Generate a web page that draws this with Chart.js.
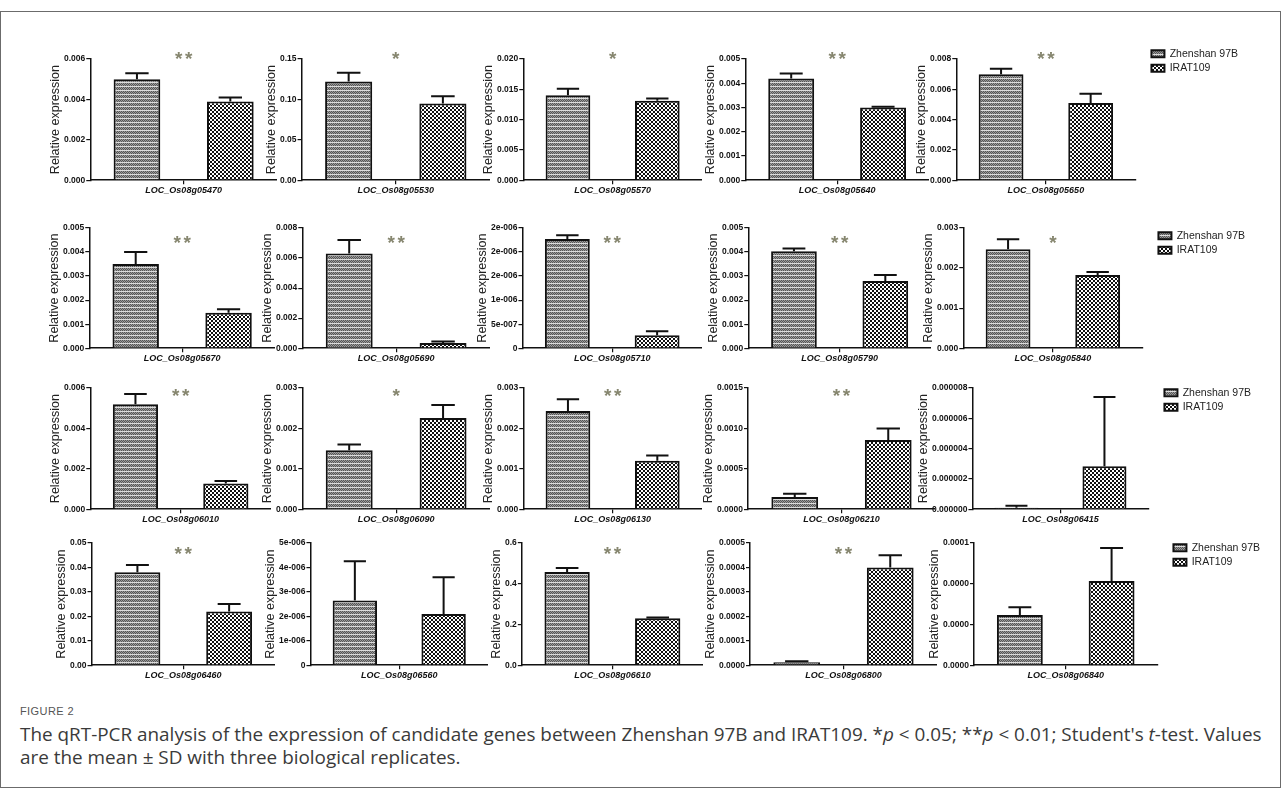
<!DOCTYPE html>
<html>
<head>
<meta charset="utf-8">
<script src="https://cdn.jsdelivr.net/npm/chart.js@4.4.0/dist/chart.umd.min.js"></script>
<style>
  html, body { margin: 0; padding: 0; background: #fff; }
  body { width: 1282px; height: 794px; position: relative; overflow: hidden; font-family: Arial, 'Liberation Sans', sans-serif; }
  #frame { position: absolute; left: 0; top: 11px; width: 1281px; height: 777px; border: 1px solid #6b6b6b; box-sizing: border-box; }
  canvas { position: absolute; }
  #fig { position: absolute; left: 20px; top: 705px; font-size: 11px; color: #555; letter-spacing: 0.4px; }
  #cap { position: absolute; left: 20px; top: 723px; font-family: 'Open Sans', Arial, sans-serif; font-size: 18.9px; line-height: 23px; color: #3a3a3a; white-space: nowrap; }
</style>
</head>
<body>
<div id="frame"></div>
<div id="fig">FIGURE 2</div>
<div id="cap">The qRT-PCR analysis of the expression of candidate genes between Zhenshan 97B and IRAT109. *<i>p</i> &lt; 0.05; **<i>p</i> &lt; 0.01; Student's <i>t</i>-test. Values<br>are the mean ± SD with three biological replicates.</div>
<script>
/* qRT-PCR panels: two lines (Zhenshan 97B / IRAT109) per gene, mean + SD */

const genes = [
  'LOC_Os08g05470', 'LOC_Os08g05530', 'LOC_Os08g05570', 'LOC_Os08g05640', 'LOC_Os08g05650',
  'LOC_Os08g05670', 'LOC_Os08g05690', 'LOC_Os08g05710', 'LOC_Os08g05790', 'LOC_Os08g05840',
  'LOC_Os08g06010', 'LOC_Os08g06090', 'LOC_Os08g06130', 'LOC_Os08g06210', 'LOC_Os08g06415',
  'LOC_Os08g06460', 'LOC_Os08g06560', 'LOC_Os08g06610', 'LOC_Os08g06800', 'LOC_Os08g06840',
];
const seriesNames = ['Zhenshan 97B', 'IRAT109'];

const zhenshanMean = [
  0.0050, 0.122, 0.0140, 0.0042, 0.0070,
  0.0035, 0.0063, 2.27e-6, 0.00403, 0.00247,
  0.0052, 0.00146, 0.00243, 0.00015, 1.0e-7,
  0.038, 2.65e-6, 0.458, 0.000012, 0.000041,
];
const zhenshanSD = [
  0.0003, 0.011, 0.0011, 0.0002, 0.00035,
  0.0005, 0.0009, 0.08e-6, 0.00012, 0.00025,
  0.0005, 0.00014, 0.00029, 0.00004, 1.2e-7,
  0.003, 1.6e-6, 0.019, 0.000004, 0.0000065,
];
const iratMean = [
  0.0039, 0.095, 0.0131, 0.0030, 0.0051,
  0.00147, 0.00035, 0.27e-6, 0.0028, 0.00183,
  0.00127, 0.00226, 0.0012, 0.000855, 2.84e-6,
  0.022, 2.1e-6, 0.230, 0.0004, 0.0000689,
];
const iratSD = [
  0.0002, 0.009, 0.0004, 0.00003, 0.0006,
  0.00015, 0.0001, 0.08e-6, 0.00024, 0.00007,
  0.00013, 0.00032, 0.00013, 0.000145, 4.56e-6,
  0.003, 1.5e-6, 0.004, 0.00005, 0.000027,
];
const stars = [
  '**', '*', '*', '**', '**',
  '**', '**', '**', '**', '*',
  '**', '*', '**', '**', '',
  '**', '', '**', '**', '',
];
const yMax = [
  0.006, 0.15, 0.020, 0.005, 0.008,
  0.005, 0.008, 2.5e-6, 0.005, 0.003,
  0.006, 0.003, 0.003, 0.0015, 0.000008,
  0.05, 5e-6, 0.6, 0.0005, 0.0001,
];
const yTickLabels = [
  ['0.000', '0.002', '0.004', '0.006'],
  ['0.00', '0.05', '0.10', '0.15'],
  ['0.000', '0.005', '0.010', '0.015', '0.020'],
  ['0.000', '0.001', '0.002', '0.003', '0.004', '0.005'],
  ['0.000', '0.002', '0.004', '0.006', '0.008'],
  ['0.000', '0.001', '0.002', '0.003', '0.004', '0.005'],
  ['0.000', '0.002', '0.004', '0.006', '0.008'],
  ['0', '5e-007', '1e-006', '2e-006', '2e-006', '2e-006'],
  ['0.000', '0.001', '0.002', '0.003', '0.004', '0.005'],
  ['0.000', '0.001', '0.002', '0.003'],
  ['0.000', '0.002', '0.004', '0.006'],
  ['0.000', '0.001', '0.002', '0.003'],
  ['0.000', '0.001', '0.002', '0.003'],
  ['0.0000', '0.0005', '0.0010', '0.0015'],
  ['0.000000', '0.000002', '0.000004', '0.000006', '0.000008'],
  ['0.00', '0.01', '0.02', '0.03', '0.04', '0.05'],
  ['0', '1e-006', '2e-006', '3e-006', '4e-006', '5e-006'],
  ['0.0', '0.2', '0.4', '0.6'],
  ['0.0000', '0.0001', '0.0002', '0.0003', '0.0004', '0.0005'],
  ['0.0000', '0.0000', '0.0000', '0.0001'],
];

// page layout: plot area edges (px) for each row / panel
const rowTop = [59, 228, 388, 543];
const rowBase = [180, 348, 509, 665];
const plotLeft = [
  [90, 302, 523, 745, 956],
  [89, 302, 522, 748, 963],
  [90, 302, 523, 748, 972],
  [92, 310, 522, 750, 974],
];
const plotRight = [
  [277, 490, 702, 929, 1135],
  [275, 490, 702, 931, 1142],
  [271, 490, 702, 935, 1148],
  [275, 488, 703, 937, 1157],
];
const starY = [54, 238, 391, 549];
const legendShift = [-14.5, -1.5, -4.5, -4.5];
const legendGap = 12;

const ink = '#111';
const tickFont = { family: 'Arial, sans-serif', size: 8.5, weight: 'bold' };

function makePattern(kind) {
  const c = document.createElement('canvas');
  c.width = 4;
  c.height = 4;
  const g = c.getContext('2d');
  if (kind === 'stripes') {
    for (let y = 0; y < 4; y += 1) {
      for (let x = 0; x < 4; x += 1) {
        if (y === 3) g.fillStyle = '#dcdcdc';
        else g.fillStyle = (x + y) % 2 ? '#555' : '#9c9c9c';
        g.fillRect(x, y, 1, 1);
      }
    }
  } else {
    g.fillStyle = '#fff';
    g.fillRect(0, 0, 4, 4);
    g.fillStyle = '#111';
    g.fillRect(0, 0, 2, 2);
    g.fillRect(2, 2, 2, 2);
  }
  return g.createPattern(c, 'repeat');
}

const patterns = [makePattern('stripes'), makePattern('checker')];

const errorBars = {
  id: 'errorBars',
  afterDatasetsDraw(chart) {
    const ctx = chart.ctx;
    const yScale = chart.scales.y;
    chart.data.datasets.forEach((ds, d) => {
      const bar = chart.getDatasetMeta(d).data[0];
      const top = yScale.getPixelForValue(ds.data[0] + ds.sd[0]);
      ctx.save();
      ctx.strokeStyle = ink;
      ctx.lineWidth = 2;
      ctx.beginPath();
      ctx.moveTo(bar.x, bar.y);
      ctx.lineTo(bar.x, top);
      ctx.moveTo(bar.x - bar.width / 4, top);
      ctx.lineTo(bar.x + bar.width / 4, top);
      ctx.stroke();
      ctx.restore();
    });
  },
};

// significance marks, centred over the panel
const starMarks = {
  id: 'stars',
  afterDraw(chart, args, opts) {
    if (!opts.text) return;
    const { left, right, top } = chart.chartArea;
    const ctx = chart.ctx;
    const n = opts.text.length;
    const cx = (left + right) / 2;
    const cy = top + opts.dy;
    ctx.save();
    ctx.fillStyle = '#86866f';
    ctx.font = 'bold 19px Arial, sans-serif';
    ctx.textAlign = 'center';
    ctx.textBaseline = 'alphabetic';
    for (let k = 0; k < n; k += 1) {
      ctx.fillText('*', cx + (k - (n - 1) / 2) * 10, cy + 11);
    }
    ctx.restore();
  },
};

// legend sits a little off the plot and may be wider than Chart.js would allow
const legendPlace = {
  id: 'legendPlace',
  beforeLayout(chart) {
    const lg = chart.legend;
    if (lg && !lg._wide) {
      const update = lg.update.bind(lg);
      lg.update = (maxW, maxH, margins) => update(Math.max(maxW, 110), maxH, margins);
      lg._wide = true;
    }
  },
  afterLayout(chart, args, opts) {
    const lg = chart.legend;
    if (!lg || !chart.options.plugins.legend.display) return;
    lg.left += opts.dx;
    lg.right += opts.dx;
    lg.top += opts.dy;
    lg.bottom += opts.dy;
  },
};

function config(i, withLegend, row) {
  const ticks = yTickLabels[i];
  return {
    type: 'bar',
    data: {
      labels: [genes[i]],
      datasets: [
        { label: seriesNames[0], data: [zhenshanMean[i]], sd: [zhenshanSD[i]] },
        { label: seriesNames[1], data: [iratMean[i]], sd: [iratSD[i]] },
      ].map((ds, k) => Object.assign(ds, {
        backgroundColor: patterns[k],
        borderColor: ink,
        borderWidth: 2,
        barPercentage: 0.5,
        categoryPercentage: 1,
      })),
    },
    options: {
      responsive: false,
      animation: false,
      devicePixelRatio: 1,
      layout: { padding: { top: 24, right: withLegend ? legendGap + 10 : 0, bottom: 0, left: 0 } },
      plugins: {
        tooltip: { enabled: false },
        legend: {
          display: withLegend,
          position: 'right',
          align: 'start',
          labels: {
            boxWidth: 13,
            boxHeight: 7,
            padding: 4,
            color: '#222',
            font: { family: 'Arial, sans-serif', size: 10.5 },
          },
        },
        legendPlace: { dx: legendGap, dy: legendShift[row] },
        stars: { text: stars[i], dy: starY[row] - rowTop[row] },
      },
      scales: {
        x: {
          grid: { display: true, drawOnChartArea: false, offset: false, tickLength: 4, color: ink, lineWidth: 1.2 },
          border: { color: ink, width: 1.5 },
          ticks: {
            color: ink,
            padding: 1,
            maxRotation: 0,
            font: { family: 'Arial, sans-serif', size: 9, weight: 'bold', style: 'italic' },
          },
        },
        y: {
          min: 0,
          max: yMax[i],
          grid: { display: true, drawOnChartArea: false, tickLength: 4, color: ink, lineWidth: 1.2 },
          border: { color: ink, width: 1.5 },
          ticks: {
            count: ticks.length,
            color: ink,
            padding: 1,
            font: tickFont,
            callback: (v, idx) => ticks[idx],
          },
          title: {
            display: true,
            text: 'Relative expression',
            color: '#222',
            padding: { top: 0, bottom: 0 },
            font: { family: 'Arial, sans-serif', size: 12.5 },
          },
        },
      },
    },
    plugins: [errorBars, starMarks, legendPlace],
  };
}

function newCanvas(w, h) {
  const c = document.createElement('canvas');
  c.width = w;
  c.height = h;
  c.style.width = w + 'px';
  c.style.height = h + 'px';
  document.body.appendChild(c);
  return c;
}

function buildPanel(row, col) {
  const i = row * 5 + col;
  const withLegend = col === 4;
  const L = plotLeft[row][col];
  const R = plotRight[row][col];
  const T = rowTop[row];
  const B = rowBase[row];

  // first pass: measure how much room the axes and legend take
  const probe = newCanvas(600, 300);
  const first = new Chart(probe, config(i, withLegend, row));
  const area = first.chartArea;
  const left = area.left;
  const top = area.top;
  const rightExtra = 600 - area.right;
  const bottomExtra = 300 - area.bottom;
  first.destroy();
  probe.remove();

  const w = Math.round(left + (R - L) + rightExtra);
  const h = Math.round(top + (B - T) + bottomExtra);
  const canvas = newCanvas(w, h);
  const chart = new Chart(canvas, config(i, withLegend, row));
  canvas.style.left = Math.round(L - chart.chartArea.left) + 'px';
  canvas.style.top = Math.round(T - chart.chartArea.top) + 'px';
}

for (let row = 0; row < 4; row += 1) {
  for (let col = 0; col < 5; col += 1) {
    buildPanel(row, col);
  }
}
</script>
</body>
</html>
